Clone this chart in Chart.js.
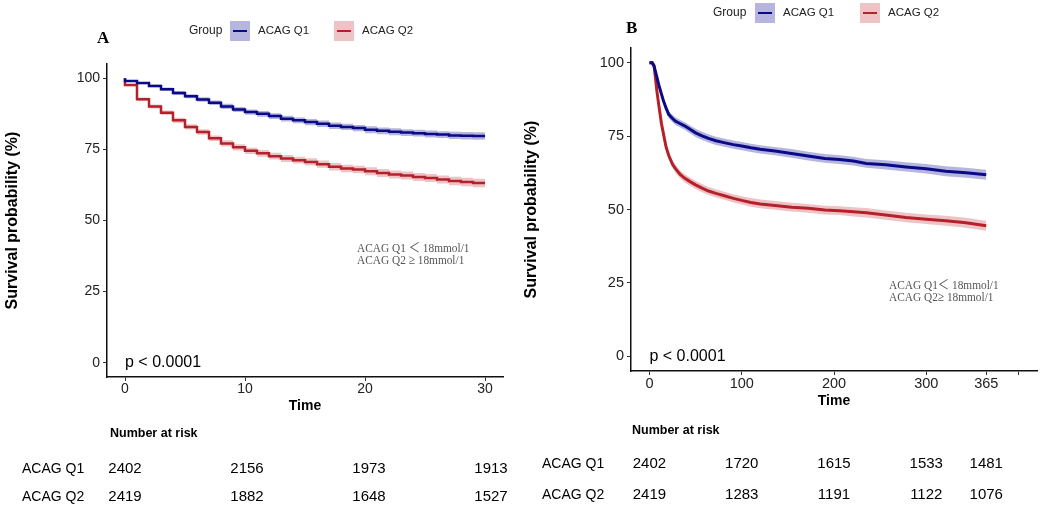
<!DOCTYPE html>
<html>
<head>
<meta charset="utf-8">
<script src="https://cdn.jsdelivr.net/npm/chart.js@4.4.1/dist/chart.umd.min.js"></script>
<style>
  html, body { margin: 0; padding: 0; background: #fff; }
  #wrap { position: relative; width: 1052px; height: 505px; }
  canvas { position: absolute; top: 0; }
  #chartA { left: 0; }
  #chartB { left: 520px; }
</style>
</head>
<body>
<div id="wrap">
  <canvas id="chartA" width="520" height="505"></canvas>
  <canvas id="chartB" width="532" height="505"></canvas>
</div>
<script>
const groups = ['ACAG Q1', 'ACAG Q2'];
const yTicks = [0, 25, 50, 75, 100];

// panel A: 30-day follow-up
const daysA = [0, 1, 2, 3, 4, 5, 6, 7, 8, 9, 10, 11, 12, 13, 14, 15, 16, 17, 18, 19, 20, 21, 22, 23, 24, 25, 26, 27, 28, 29, 30];
const survA_Q1 = [100, 99.0, 98.3, 97.3, 96.1, 94.8, 93.7, 92.5, 91.4, 90.1, 89.0, 88.1, 87.5, 86.7, 85.8, 85.2, 84.6, 84.0, 83.3, 82.9, 82.5, 81.9, 81.5, 81.2, 80.9, 80.7, 80.4, 80.2, 79.9, 79.8, 79.7];
const survA_Q2 = [100, 97.6, 92.6, 90.1, 87.9, 85.2, 82.9, 81.1, 78.9, 77.1, 75.7, 74.5, 73.6, 72.6, 71.8, 71.2, 70.6, 69.8, 68.9, 68.3, 67.9, 67.3, 66.7, 66.2, 65.8, 65.3, 64.9, 64.4, 63.9, 63.5, 63.2];
const ciA_Q1 = [0, 0.3, 0.4, 0.5, 0.6, 0.7, 0.7, 0.8, 0.8, 0.9, 0.9, 0.9, 1.0, 1.0, 1.0, 1.0, 1.1, 1.1, 1.1, 1.1, 1.1, 1.2, 1.2, 1.2, 1.2, 1.2, 1.2, 1.2, 1.3, 1.3, 1.3];
const ciA_Q2 = [0, 0.4, 0.6, 0.7, 0.8, 0.9, 0.9, 1.0, 1.0, 1.1, 1.1, 1.1, 1.2, 1.2, 1.2, 1.2, 1.3, 1.3, 1.3, 1.3, 1.3, 1.4, 1.4, 1.4, 1.4, 1.4, 1.4, 1.4, 1.5, 1.5, 1.5];
const xTicksA = [0, 10, 20, 30];
const xTickLabelsA = ['0', '10', '20', '30'];
const riskTimesA = [0, 10, 20, 30];
const riskA_Q1 = [2402, 2156, 1973, 1913];
const riskA_Q2 = [2419, 1882, 1648, 1527];

// panel B: 365-day follow-up
const daysB = [0, 3, 5, 8, 10, 13, 15, 18, 21, 25, 28, 33, 38, 44, 50, 57, 64, 72, 82, 91, 100, 110, 120, 136, 154, 172, 190, 206, 221, 235, 256, 278, 300, 321, 343, 365];
const survB_Q1 = [100, 100, 98.8, 95.2, 92.6, 89.3, 87.2, 84.5, 82.3, 81.0, 80.1, 79.3, 78.5, 77.3, 76.1, 75.1, 74.2, 73.4, 72.7, 72.1, 71.6, 71.0, 70.5, 69.9, 69.1, 68.2, 67.4, 67.0, 66.5, 65.7, 65.2, 64.5, 63.9, 63.0, 62.5, 61.8];
const survB_Q2 = [100, 100, 99.0, 90.5, 85.8, 79.3, 76.0, 71.3, 68.3, 65.4, 64.0, 62.0, 60.7, 59.5, 58.4, 57.3, 56.3, 55.5, 54.6, 53.8, 53.1, 52.4, 51.9, 51.4, 50.8, 50.4, 49.8, 49.6, 49.2, 48.9, 48.1, 47.3, 46.7, 46.2, 45.5, 44.5];
const ciB_Q1 = [0, 0.1, 0.3, 0.6, 0.8, 1.0, 1.1, 1.2, 1.2, 1.3, 1.3, 1.3, 1.3, 1.3, 1.4, 1.4, 1.4, 1.4, 1.4, 1.4, 1.4, 1.4, 1.4, 1.4, 1.5, 1.5, 1.5, 1.5, 1.5, 1.5, 1.6, 1.6, 1.6, 1.7, 1.7, 1.7];
const ciB_Q2 = [0, 0.1, 0.4, 0.8, 1.0, 1.1, 1.2, 1.3, 1.3, 1.3, 1.4, 1.4, 1.4, 1.4, 1.4, 1.4, 1.4, 1.4, 1.4, 1.4, 1.4, 1.5, 1.5, 1.5, 1.5, 1.5, 1.5, 1.5, 1.6, 1.6, 1.6, 1.6, 1.6, 1.7, 1.7, 1.7];
const xTicksB = [0, 100, 200, 300, 365, 400];
const xTickLabelsB = ['0', '100', '200', '300', '365', ''];
const riskTimesB = [0, 100, 200, 300, 365];
const riskB_Q1 = [2402, 1720, 1615, 1533, 1481];
const riskB_Q2 = [2419, 1283, 1191, 1122, 1076];

const lineColors = ['#0a0a86', '#b5212b'];
const bandColors = ['rgba(10,10,150,0.30)', 'rgba(190,40,50,0.28)'];

Chart.defaults.font.family = '"Liberation Sans", Arial, sans-serif';
Chart.defaults.color = '#222';

const buildDatasets = (days, series, ci, stepped, lw) => {
  const lines = series.map((s, k) => ({
    label: groups[k],
    data: days.map((d, i) => ({ x: d, y: s[i] })),
    borderColor: lineColors[k],
    borderWidth: lw,
    pointRadius: 0,
    stepped: stepped,
    tension: 0,
    fill: false,
    order: 0
  }));
  const bands = [];
  series.forEach((s, k) => {
    bands.push({
      label: groups[k] + ' upper',
      data: days.map((d, i) => ({ x: d, y: s[i] + ci[k][i] })),
      borderColor: 'transparent', borderWidth: 0, pointRadius: 0,
      stepped: stepped, fill: '+1', backgroundColor: bandColors[k], order: 1
    });
    bands.push({
      label: groups[k] + ' lower',
      data: days.map((d, i) => ({ x: d, y: s[i] - ci[k][i] })),
      borderColor: 'transparent', borderWidth: 0, pointRadius: 0,
      stepped: stepped, fill: false, order: 1
    });
  });
  return lines.concat(bands);
};

// legend, p value, note and number-at-risk table
const panelText = {
  id: 'panelText',
  afterDraw(chart, args, o) {
    const ctx = chart.ctx;
    const xs = chart.scales.x, ys = chart.scales.y;
    ctx.save();
    ctx.textAlign = 'left';
    ctx.fillStyle = '#000';
    ctx.textBaseline = 'alphabetic';
    ctx.font = 'bold 17px "Liberation Serif"';
    ctx.fillText(o.letter, o.letterX, o.letterY);

    ctx.textBaseline = 'middle';
    ctx.font = '12px "Liberation Sans"';
    ctx.fillStyle = '#222';
    ctx.fillText('Group', o.legX, o.legY);
    groups.forEach((g, k) => {
      const bx = o.boxX[k];
      ctx.fillStyle = bandColors[k];
      ctx.fillRect(bx, o.legY - 10, 20, 20);
      ctx.strokeStyle = lineColors[k];
      ctx.lineWidth = 2;
      ctx.beginPath();
      ctx.moveTo(bx + 3, o.legY);
      ctx.lineTo(bx + 17, o.legY);
      ctx.stroke();
      ctx.fillStyle = '#222';
      ctx.font = '11.5px "Liberation Sans"';
      ctx.fillText(g, bx + 28, o.legY);
    });

    ctx.fillStyle = '#000';
    ctx.font = '16px "Liberation Sans"';
    ctx.fillText('p < 0.0001', xs.getPixelForValue(0), ys.getPixelForValue(0));

    // narrow serif note, squeezed like the original SimSun text
    ctx.fillStyle = '#555';
    ctx.font = '13.5px "Liberation Serif", "Noto Sans CJK SC"';
    o.note.forEach((t, i) => {
      ctx.save();
      ctx.translate(o.noteX, o.noteY + i * 12.5);
      ctx.scale(0.84, 1);
      ctx.fillText(t, 0, 0);
      ctx.restore();
    });

    ctx.fillStyle = '#000';
    ctx.font = 'bold 12.5px "Liberation Sans"';
    ctx.fillText('Number at risk', o.riskX, o.riskTitleY);
    o.riskRows.forEach((row, r) => {
      ctx.textAlign = 'left';
      ctx.font = '14px "Liberation Sans"';
      ctx.fillText(groups[r], 22, o.rowY[r]);
      ctx.textAlign = 'center';
      ctx.font = '15px "Liberation Sans"';
      row.forEach((n, i) => ctx.fillText(String(n), xs.getPixelForValue(o.riskTimes[i]) + o.riskShift * i, o.rowY[r]));
    });
    ctx.restore();
  }
};

const makeChart = (id, cfg) => new Chart(document.getElementById(id), {
  type: 'line',
  data: { datasets: buildDatasets(cfg.days, cfg.series, cfg.ci, cfg.stepped, cfg.lw) },
  plugins: [panelText],
  options: {
    responsive: false,
    animation: false,
    layout: { padding: cfg.padding },
    plugins: {
      legend: { display: false },
      tooltip: { enabled: false },
      filler: { propagate: false },
      panelText: cfg.text
    },
    scales: {
      x: {
        type: 'linear',
        min: cfg.xMin, max: cfg.xMax,
        afterBuildTicks: s => { s.ticks = cfg.xTicks.map(v => ({ value: v })); },
        afterFit: s => { s.height = 40; },
        ticks: {
          padding: 0,
          color: '#222',
          font: { size: cfg.tickSize },
          maxRotation: 0,
          callback: (v, i) => cfg.xTickLabels[i]
        },
        grid: { display: true, drawOnChartArea: false, drawTicks: true, tickLength: 4, color: '#333' },
        border: { display: true, color: '#111', width: 1.5 },
        title: { display: true, text: 'Time', color: '#000', font: { size: 14, weight: 'bold' }, padding: { top: 0, bottom: cfg.xTitlePad } }
      },
      y: {
        min: -5, max: 105,
        afterBuildTicks: s => { s.ticks = yTicks.map(v => ({ value: v })); },
        afterFit: s => { s.width = cfg.yWidth; },
        ticks: { padding: 3, color: '#222', font: { size: cfg.tickSize } },
        grid: { display: true, drawOnChartArea: false, drawTicks: true, tickLength: 4, color: '#333' },
        border: { display: true, color: '#111', width: 1.5 },
        title: { display: true, text: 'Survival probability (%)', color: '#000', font: { size: 16, weight: 'bold' }, padding: { top: cfg.yTitlePad, bottom: 0 } }
      }
    }
  }
});

makeChart('chartA', {
  days: daysA, series: [survA_Q1, survA_Q2], ci: [ciA_Q1, ciA_Q2], stepped: 'after', lw: 2.5,
  padding: { top: 64, left: 0, right: 17, bottom: 88 },
  xMin: -1.5, xMax: 31.5, xTicks: xTicksA, xTickLabels: xTickLabelsA,
  tickSize: 14, xTitlePad: 2, yWidth: 107, yTitlePad: 3,
  text: {
    letter: 'A', letterX: 97, letterY: 43,
    legX: 189, legY: 31, boxX: [230, 334],
    note: ['ACAG Q1 ＜ 18mmol/1', 'ACAG Q2 ≥ 18mmol/1'], noteX: 357, noteY: 248,
    riskX: 110, riskTitleY: 434, rowY: [469, 497], riskShift: 2,
    riskTimes: riskTimesA, riskRows: [riskA_Q1, riskA_Q2]
  }
});

makeChart('chartB', {
  days: daysB, series: [survB_Q1, survB_Q2], ci: [ciB_Q1, ciB_Q2], stepped: false, lw: 3,
  padding: { top: 48, left: 0, right: 15, bottom: 94 },
  xMin: -20, xMax: 420, xTicks: xTicksB, xTickLabels: xTickLabelsB,
  tickSize: 14.5, xTitlePad: 1, yWidth: 111, yTitlePad: 2,
  text: {
    letter: 'B', letterX: 106, letterY: 33,
    legX: 193, legY: 13, boxX: [235, 340],
    note: ['ACAG Q1＜ 18mmol/1', 'ACAG Q2≥ 18mmol/1'], noteX: 369, noteY: 285,
    riskX: 112, riskTitleY: 431, rowY: [464, 495], riskShift: 0,
    riskTimes: riskTimesB, riskRows: [riskB_Q1, riskB_Q2]
  }
});
</script>
</body>
</html>
